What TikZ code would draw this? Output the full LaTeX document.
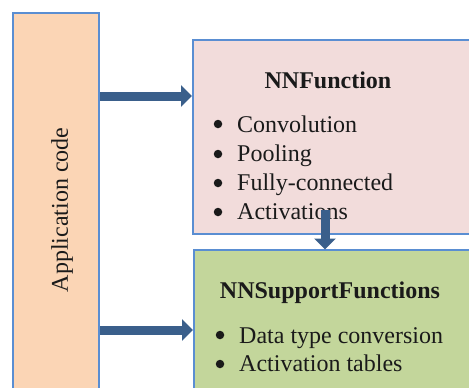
\documentclass[tikz,border=0pt]{standalone}
\usepackage{fontspec}
\setmainfont{Liberation Serif}
\usetikzlibrary{arrows.meta}
\definecolor{peach}{HTML}{FBD5B5}
\definecolor{pinkbox}{HTML}{F2DCDB}
\definecolor{greenbox}{HTML}{C3D69B}
\definecolor{boxline}{HTML}{5A8ED2}
\definecolor{arrowblue}{HTML}{3A5F8B}
\definecolor{bulletc}{HTML}{1A1A1A}
\tikzset{
  box/.style={draw=boxline, line width=2pt, rectangle, inner sep=0pt, anchor=north west},
  bigarrow/.style={draw=arrowblue, line width=9pt, -{Triangle[length=11pt,width=21pt]}},
  txt/.style={anchor=base west, inner sep=0pt, font=\fontsize{24}{29}\selectfont, text=bulletc},
  ttl/.style={anchor=base, inner sep=0pt, font=\fontsize{24}{29}\selectfont\bfseries, text=bulletc},
  dot/.style={circle, fill=bulletc, inner sep=0pt, minimum size=8.5pt},
}
\begin{document}
\begin{tikzpicture}[x=1pt, y=-1pt]
\clip (0,0) rectangle (469,388);
\node[box, fill=peach, minimum width=86pt, minimum height=420pt] (app) at (12,12) {};
\node[box, fill=pinkbox, minimum width=320pt, minimum height=194pt] (nnf) at (192,39) {};
\node[box, fill=greenbox, minimum width=320pt, minimum height=200pt] (nns) at (193,249) {};
\node[rotate=90, inner sep=0pt, font=\fontsize{24}{29}\selectfont, text=bulletc] (applbl) at (62,210) {Application code};
% NNFunction
\node[ttl] (t1) at (328,88) {NNFunction};
\node[dot] (b1) at (218,124) {};
\node[txt] (l1) at (237,132) {Convolution};
\node[dot] (b2) at (218,154) {};
\node[txt] (l2) at (237,161) {Pooling};
\node[dot] (b3) at (218,183) {};
\node[txt] (l3) at (237,190) {Fully-connected};
\node[dot] (b4) at (218,212) {};
\node[txt] (l4) at (237,219) {Activations};
% NNSupportFunctions
\node[ttl] (t2) at (330,298) {NNSupportFunctions};
\node[dot] (b5) at (220,335) {};
\node[txt] (l5) at (239,343) {Data type conversion};
\node[dot] (b6) at (220,364) {};
\node[txt] (l6) at (239,371) {Activation tables};
% arrows
\coordinate (vstart) at (325,210);
\draw[bigarrow] (app.east |- 0,96) -- (nnf.west |- 0,96);
\draw[bigarrow] (app.east |- 0,330) -- (nns.west |- 0,330);
\draw[bigarrow, shorten >=-0.5pt] (vstart) -- (vstart |- nns.north);
\end{tikzpicture}
\end{document}
